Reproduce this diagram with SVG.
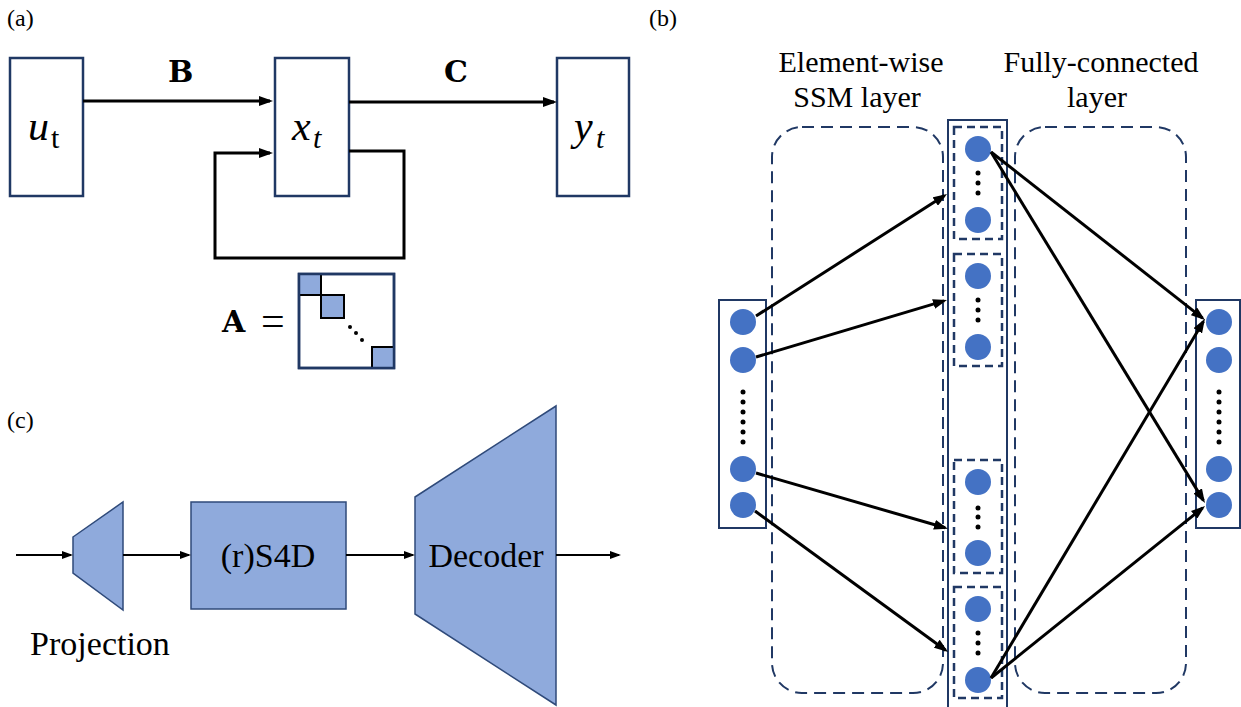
<svg xmlns="http://www.w3.org/2000/svg" width="1241" height="707" viewBox="0 0 1241 707">
<style>
.box{fill:#fff;stroke:#203864;stroke-width:2.5}
.ln{fill:none;stroke:#000;stroke-width:3}
.lns{fill:none;stroke:#000;stroke-width:2.2}
.serif{font-family:'Liberation Serif','Times New Roman','DejaVu Serif',serif}
.lbl{font-size:24px;fill:#000}
.hdr{font-size:30px;fill:#000;text-anchor:middle}
.big{font-size:34px;fill:#000;text-anchor:middle}
.bold{font-family:'DejaVu Serif','Liberation Serif',serif;font-weight:bold;font-size:30px;fill:#000}
.mi{font-style:italic;font-size:42px;fill:#000}
.sub{font-size:30px;fill:#000}
.dash{fill:none;stroke:#203864;stroke-width:2;stroke-dasharray:12 7}
.idash{fill:none;stroke:#203864;stroke-width:2.5;stroke-dasharray:8 5}
.col{fill:#fff;stroke:#203864;stroke-width:2}
.nd{fill:#4472C4}
.dot{fill:#000}
.blk{fill:#8FAADC;stroke:#2F4A7A;stroke-width:1.5}
</style>
<defs>
<marker id="ah" viewBox="0 0 14 10" markerWidth="14" markerHeight="10" markerUnits="userSpaceOnUse" refX="11" refY="5" orient="auto"><path d="M0,0 L14,5 L0,10 z" fill="#000"/></marker>
<marker id="ahs" viewBox="0 0 11 8" markerWidth="11" markerHeight="8" markerUnits="userSpaceOnUse" refX="9" refY="4" orient="auto"><path d="M0,0 L11,4 L0,8 z" fill="#000"/></marker>
</defs>
<rect width="1241" height="707" fill="#fff"/>

<!-- (a) -->
<text class="serif lbl" x="7" y="26">(a)</text>
<g id="node-u">
<rect class="box" x="10" y="58" width="73" height="138"/>
<text class="serif mi" x="28" y="140">u</text><text class="serif sub" x="51" y="148">t</text>
</g>
<g id="node-x">
<rect class="box" x="275" y="58" width="74" height="138"/>
<text class="serif mi" x="292" y="140">x</text><text class="serif sub" x="313" y="148" font-style="italic">t</text>
</g>
<g id="node-y">
<rect class="box" x="557" y="58" width="72" height="138"/>
<text class="serif mi" x="574" y="140">y</text><text class="serif sub" x="596" y="148" font-style="italic">t</text>
</g>
<g id="label-B"><text class="bold" x="168" y="82">B</text></g>
<g id="label-C"><text class="bold" x="444" y="82">C</text></g>
<g id="matrix-A">
<text class="bold" x="222" y="332">A</text>
<text class="serif" font-size="42" x="261" y="335">=</text>
<rect x="299" y="274" width="95" height="94" fill="#fff" stroke="#203864" stroke-width="2.5"/>
<rect x="299" y="274" width="22" height="21" fill="#8FAADC" stroke="#000" stroke-width="2"/>
<rect x="321" y="295" width="23" height="23" fill="#8FAADC" stroke="#000" stroke-width="2"/>
<rect x="372" y="347" width="22" height="21" fill="#8FAADC" stroke="#000" stroke-width="2"/>
<rect x="299" y="274" width="95" height="94" fill="none" stroke="#203864" stroke-width="2.5"/>
<circle class="dot" cx="350" cy="327" r="2"/><circle class="dot" cx="356" cy="333" r="2"/><circle class="dot" cx="362" cy="340" r="2"/>
</g>
<g id="connectors-a">
<line class="ln" x1="83" y1="101" x2="270" y2="101" marker-end="url(#ah)"/>
<line class="ln" x1="349" y1="102" x2="554" y2="102" marker-end="url(#ah)"/>
<path class="ln" d="M349,151 H404 V258 H215 V153 H270" marker-end="url(#ah)"/>
</g>

<!-- (b) -->
<text class="serif lbl" x="649" y="26">(b)</text>
<text class="serif hdr" x="861" y="72">Element-wise</text>
<text class="serif hdr" x="857" y="107">SSM layer</text>
<text class="serif hdr" x="1101" y="72">Fully-connected</text>
<text class="serif hdr" x="1097" y="107">layer</text>
<g id="ssm-region"><rect class="dash" x="772" y="127" width="171" height="566" rx="30" ry="30"/></g>
<g id="fc-region"><rect class="dash" x="1015" y="127" width="171" height="566" rx="30" ry="30"/></g>
<g id="input-col">
<rect class="col" x="719" y="300" width="47" height="228"/>
<circle class="nd" cx="743" cy="322" r="13"/><circle class="nd" cx="743" cy="360" r="13"/>
<circle class="dot" cx="743" cy="392" r="2.5"/><circle class="dot" cx="743" cy="402" r="2.5"/><circle class="dot" cx="743" cy="412" r="2.5"/><circle class="dot" cx="743" cy="422" r="2.5"/><circle class="dot" cx="743" cy="432" r="2.5"/><circle class="dot" cx="743" cy="442" r="2.5"/>
<circle class="nd" cx="743" cy="469" r="13"/><circle class="nd" cx="743" cy="505" r="13"/>
</g>
<g id="mid-col">
<rect class="col" x="948" y="120" width="59" height="600"/>
<rect class="idash" x="954" y="127" width="48" height="112"/>
<rect class="idash" x="954" y="254" width="48" height="112"/>
<rect class="idash" x="954" y="460" width="48" height="113"/>
<rect class="idash" x="954" y="587" width="48" height="111"/>
<circle class="nd" cx="978" cy="149" r="13"/><circle class="nd" cx="978" cy="220" r="13"/>
<circle class="dot" cx="978" cy="173" r="2.5"/><circle class="dot" cx="978" cy="183" r="2.5"/><circle class="dot" cx="978" cy="193" r="2.5"/>
<circle class="nd" cx="978" cy="276" r="13"/><circle class="nd" cx="978" cy="347" r="13"/>
<circle class="dot" cx="978" cy="300" r="2.5"/><circle class="dot" cx="978" cy="310" r="2.5"/><circle class="dot" cx="978" cy="320" r="2.5"/>
<circle class="nd" cx="978" cy="482" r="13"/><circle class="nd" cx="978" cy="553" r="13"/>
<circle class="dot" cx="978" cy="508" r="2.5"/><circle class="dot" cx="978" cy="517" r="2.5"/><circle class="dot" cx="978" cy="527" r="2.5"/>
<circle class="nd" cx="978" cy="609" r="13"/><circle class="nd" cx="978" cy="680" r="13"/>
<circle class="dot" cx="978" cy="633" r="2.5"/><circle class="dot" cx="978" cy="643" r="2.5"/><circle class="dot" cx="978" cy="653" r="2.5"/>
</g>
<g id="output-col">
<rect class="col" x="1196" y="300" width="44" height="228"/>
<circle class="nd" cx="1219" cy="322" r="13"/><circle class="nd" cx="1219" cy="360" r="13"/>
<circle class="dot" cx="1219" cy="392" r="2.5"/><circle class="dot" cx="1219" cy="402" r="2.5"/><circle class="dot" cx="1219" cy="412" r="2.5"/><circle class="dot" cx="1219" cy="422" r="2.5"/><circle class="dot" cx="1219" cy="432" r="2.5"/><circle class="dot" cx="1219" cy="442" r="2.5"/>
<circle class="nd" cx="1219" cy="469" r="13"/><circle class="nd" cx="1219" cy="505" r="13"/>
</g>
<g id="connectors-b">
<line class="ln" x1="756" y1="316" x2="944.5" y2="195.6" marker-end="url(#ah)"/>
<line class="ln" x1="756" y1="357" x2="944.1" y2="300.9" marker-end="url(#ah)"/>
<line class="ln" x1="756" y1="473" x2="945.1" y2="527.8" marker-end="url(#ah)"/>
<line class="ln" x1="755" y1="511" x2="945.6" y2="650.2" marker-end="url(#ah)"/>
<line class="ln" x1="991" y1="152" x2="1202.6" y2="318.1" marker-end="url(#ah)"/>
<line class="ln" x1="991" y1="152" x2="1203.4" y2="500.4" marker-end="url(#ah)"/>
<line class="ln" x1="991" y1="678" x2="1203.4" y2="321.4" marker-end="url(#ah)"/>
<line class="ln" x1="991" y1="678" x2="1202.7" y2="507.9" marker-end="url(#ah)"/>
</g>

<!-- (c) -->
<text class="serif lbl" x="7" y="428">(c)</text>
<g id="node-projection">
<polygon class="blk" points="73,537 123,502 123,610 73,573"/>
<text class="serif big" x="100" y="655">Projection</text>
</g>
<g id="node-s4d">
<rect class="blk" x="191" y="502" width="155" height="107"/>
<text class="serif big" x="268" y="567">(r)S4D</text>
</g>
<g id="node-decoder">
<polygon class="blk" points="415,497 556,406 556,705 415,614"/>
<text class="serif big" x="486" y="567">Decoder</text>
</g>
<g id="connectors-c">
<line class="lns" x1="16" y1="555" x2="71" y2="555" marker-end="url(#ahs)"/>
<line class="lns" x1="123" y1="555" x2="189" y2="555" marker-end="url(#ahs)"/>
<line class="lns" x1="346" y1="555" x2="413" y2="555" marker-end="url(#ahs)"/>
<line class="lns" x1="556" y1="555" x2="619" y2="555" marker-end="url(#ahs)"/>
</g>
</svg>
